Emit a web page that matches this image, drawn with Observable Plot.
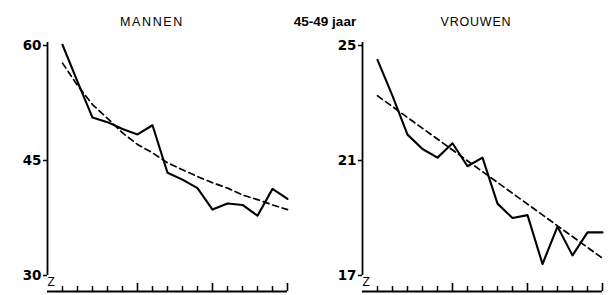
<!DOCTYPE html>
<html>
<head>
<meta charset="utf-8">
<script src="https://cdn.jsdelivr.net/npm/d3@7"></script>
<script src="https://cdn.jsdelivr.net/npm/@observablehq/plot@0.6"></script>
<style>
  html, body { margin: 0; padding: 0; background: #fff; }
  #wrap { position: relative; width: 612px; height: 295px; overflow: hidden; font-family: "Liberation Sans", Arial, sans-serif; color: #000; }
  .panel { position: absolute; top: 0; }
  .title { position: absolute; top: 15px; font-size: 12.5px; white-space: nowrap; transform: translateX(-50%); }
</style>
</head>
<body>
<div id="wrap">
  <div class="title" style="left:152px; letter-spacing:1.6px;">MANNEN</div>
  <div class="title" style="left:325px; font-size:13.5px; font-weight:bold; top:14px;">45-49 jaar</div>
  <div class="title" style="left:476px; letter-spacing:0.8px;">VROUWEN</div>
  <div class="panel" id="left" style="left:0px"></div>
  <div class="panel" id="right" style="left:306px"></div>
</div>
<script>
// ---- data ----
const years = [1950, 1951, 1952, 1953, 1954, 1955, 1956, 1957, 1958, 1959, 1960, 1961, 1962, 1963, 1964, 1965];
const menObserved = [60.1, 55.3, 50.6, 50.0, 49.1, 48.4, 49.6, 43.4, 42.5, 41.4, 38.6, 39.4, 39.2, 37.8, 41.3, 40.0];
const menTrend    = [57.7, 54.8, 52.3, 50.5, 48.6, 47.1, 46.0, 44.7, 43.8, 42.9, 42.1, 41.4, 40.5, 39.9, 39.2, 38.6];
const womenObserved = [24.5, 23.25, 21.9, 21.4, 21.1, 21.6, 20.8, 21.1, 19.5, 19.0, 19.1, 17.4, 18.7, 17.7, 18.5, 18.5];
const womenTrendYears = [1950, 1965];
const womenTrend = [23.25, 17.6];
const menTicks = [30, 45, 60];
const womenTicks = [17, 21, 25];
const minorYears = [1950, 1951, 1952, 1953, 1954, 1956, 1957, 1958, 1959, 1961, 1962, 1963, 1964];
const majorYears = [1955, 1960, 1965];
const xDomain = [1949, 1965];

function panel(observed, trendX, trendY, yTicks, mLeft, mRight) {
  const H = 295, mTop = 40, mBottom = 4;
  const frameH = H - mTop - mBottom;
  const obs = years.map((y, i) => ({year: y, v: observed[i]}));
  const tr = trendX.map((y, i) => ({year: y, v: trendY[i]}));
  const lo = yTicks[0], hi = yTicks[yTicks.length - 1];
  return Plot.plot({
    width: 306, height: H,
    marginLeft: mLeft, marginRight: mRight, marginTop: mTop, marginBottom: mBottom,
    style: {fontFamily: "'Liberation Sans', Arial, sans-serif", color: "#000", background: "transparent", overflow: "visible"},
    x: {domain: xDomain, axis: null},
    y: {domain: [lo, hi], range: [275, 45], axis: null},
    marks: [
      Plot.axisY({ticks: yTicks, tickSize: 4, tickPadding: 2, fontSize: 13.5, fontWeight: "bold", fontFamily: "'DejaVu Sans', sans-serif", label: null, strokeWidth: 1.5}),
      Plot.ruleX([xDomain[0]], {y1: hi, y2: lo, insetTop: -3, strokeWidth: 1.8}),
      Plot.text(["Z"], {frameAnchor: "bottom-left", dy: -6, fontSize: 12, fill: "#000"}),
      Plot.ruleY([lo], {dy: 16, strokeWidth: 1.8}),
      Plot.ruleX(minorYears, {x: d => d, insetTop: frameH - 5, strokeWidth: 1.5}),
      Plot.ruleX(majorYears, {x: d => d, insetTop: frameH - 8, strokeWidth: 1.6}),
      Plot.line(tr, {x: "year", y: "v", stroke: "#000", strokeWidth: 1.7, strokeDasharray: "6,4"}),
      Plot.line(obs, {x: "year", y: "v", stroke: "#000", strokeWidth: 2.1})
    ]
  });
}

document.getElementById("left").appendChild(panel(menObserved, years, menTrend, menTicks, 47, 19));
document.getElementById("right").appendChild(panel(womenObserved, womenTrendYears, womenTrend, womenTicks, 56, 10));
</script>
</body>
</html>
